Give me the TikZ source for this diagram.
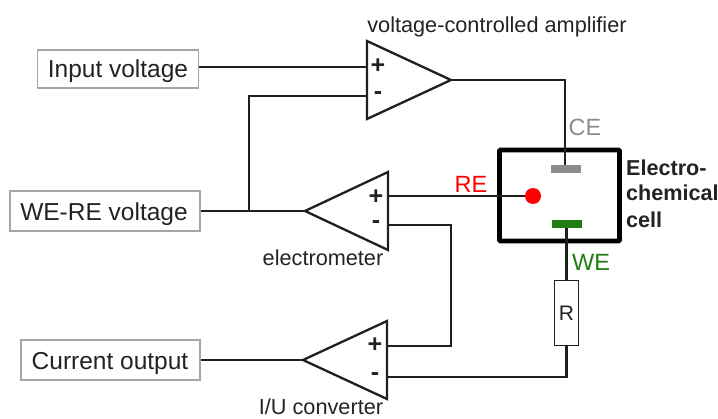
\documentclass[tikz,border=0pt]{standalone}
\usepackage{fontspec}
\setmainfont{Liberation Sans}
\newcommand{\fs}[1]{\fontsize{#1}{#1}\selectfont}
\definecolor{cegray}{RGB}{140,140,140}
\definecolor{wegreen}{RGB}{30,125,15}
\definecolor{boxgray}{RGB}{165,165,165}
\definecolor{txt}{RGB}{35,35,35}
\tikzset{
  wire/.style={line width=2.1pt,draw=black!88,line join=miter},
  iobox/.style={draw=boxgray,line width=1.6pt,fill=white,rectangle,inner sep=0pt},
  iotext/.style={inner sep=0pt,text=txt,font=\fs{24.5},anchor=base},
  amp/.style={line width=2.3pt,draw=black!88,line join=miter},
  sign/.style={inner sep=0pt,text=txt,font=\fs{25}\bfseries},
  lab/.style={inner sep=0pt,text=txt,font=\fs{21.7},anchor=base},
  elec/.style={inner sep=0pt,font=\fs{23.5},anchor=base},
  plate/.style={rectangle,inner sep=0pt,minimum width=30pt,minimum height=8pt},
  celltext/.style={inner sep=0pt,anchor=base west,text=txt,font=\fs{21.6}\bfseries}
}
\begin{document}
\begin{tikzpicture}[x=1pt,y=-1pt]
\useasboundingbox (0,0) rectangle (718,419);
% boxes
\node[iobox,minimum width=161pt,minimum height=38pt] (input) at (118,69) {};
\node[iobox,minimum width=190pt,minimum height=40pt] (were) at (105,211) {};
\node[iobox,minimum width=179pt,minimum height=40pt] (cur) at (110.5,360) {};
\node[iotext] (tinput) at (118,78) {Input voltage};
\node[iotext] (twere) at (104,221) {WE-RE voltage};
\node[iotext] (tcur) at (110,370) {Current output};
% amplifier corners and terminals
\coordinate (aT) at (367,41); \coordinate (aB) at (367,119); \coordinate (aO) at (451,80);
\coordinate (aP) at (367,67); \coordinate (aM) at (367,96);
\coordinate (eT) at (388,172); \coordinate (eB) at (388,250); \coordinate (eO) at (305,211);
\coordinate (eP) at (388,196); \coordinate (eM) at (388,225);
\coordinate (iT) at (387,321); \coordinate (iB) at (387,399); \coordinate (iO) at (303,360);
\coordinate (iP) at (387,346); \coordinate (iM) at (387,377);
\coordinate (j1) at (249,211);
\coordinate (bend1) at (249,96);
\coordinate (bend2) at (565,80);
\coordinate (bend3) at (451,225);
\coordinate (bend4) at (451,346);
\coordinate (bend5) at (566.5,377);
% cell
\node[rectangle,draw=black,line width=4.8pt,minimum width=120pt,minimum height=91pt,inner sep=0pt,rounded corners=1pt] (cell) at (559.5,195.5) {};
\node[plate,fill=cegray] (ce) at (566,169) {};
\node[plate,fill=wegreen] (we) at (566.5,224) {};
\node[circle,fill=red,inner sep=0pt,minimum size=16pt] (re) at (533,196) {};
\node[rectangle,draw=black!88,line width=1.8pt,fill=white,inner sep=0pt,minimum width=24pt,minimum height=65pt,text=txt,font=\fs{21}] (r) at (566.5,313) {R};
% wires
\draw[wire] (input.east |- aP) -- (aP);
\draw[wire] (aM) -- (bend1) -- (j1);
\draw[wire] (were.east) -- (eO);
\draw[wire] (aO) -- (bend2) -- (ce.north -| bend2);
\draw[wire] (eP) -- (re);
\draw[wire] (eM) -- (bend3) -- (bend4) -- (iP);
\draw[wire] (we.south) -- (r.north);
\draw[wire] (r.south) -- (bend5) -- (iM);
\draw[wire] (cur.east) -- (iO);
% amps
\draw[amp] (aT) -- (aO) -- (aB) -- cycle;
\draw[amp] (eT) -- (eO) -- (eB) -- cycle;
\draw[amp] (iT) -- (iO) -- (iB) -- cycle;
% signs
\node[sign] (ap) at (378,66) {+};
\node[sign] (am) at (378,96) {-};
\node[sign] (ep) at (376,197) {+};
\node[sign] (em) at (376,225) {-};
\node[sign] (ip) at (375,345) {+};
\node[sign] (im) at (375,377) {-};
% labels
\node[lab] (lv) at (497,33) {voltage-controlled amplifier};
\node[lab] (le) at (323,266) {electrometer};
\node[lab] (li) at (321,414.5) {I/U converter};
\node[elec,text=cegray] (lce) at (585,136) {CE};
\node[elec,text=red] (lre) at (471,193) {RE};
\node[elec,text=wegreen] (lwe) at (591,271) {WE};
\node[celltext] (lc1) at (626,176) {Electro-};
\node[celltext] (lc2) at (626,201) {chemical};
\node[celltext] (lc3) at (626,227.5) {cell};
\end{tikzpicture}
\end{document}
